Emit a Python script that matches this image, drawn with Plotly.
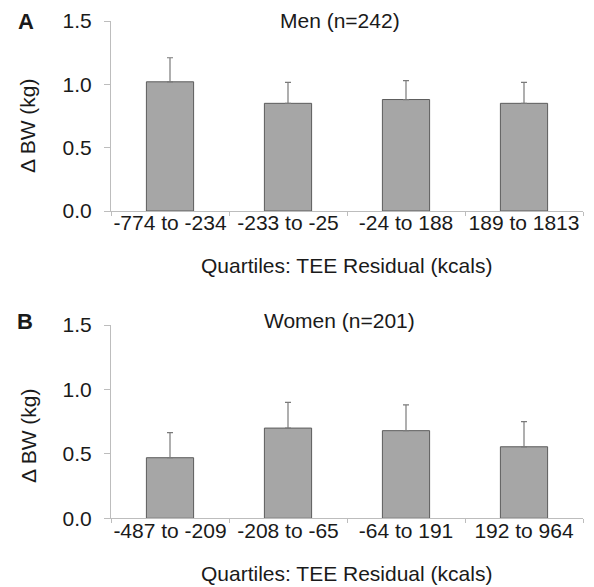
import plotly.graph_objects as go

men_cats = ["-774 to -234", "-233 to -25", "-24 to 188", "189 to 1813"]
men_vals = [1.02, 0.85, 0.88, 0.85]
men_err = [0.19, 0.165, 0.15, 0.165]

women_cats = ["-487 to -209", "-208 to -65", "-64 to 191", "192 to 964"]
women_vals = [0.47, 0.70, 0.68, 0.555]
women_err = [0.195, 0.20, 0.20, 0.195]

y_ticks = [0.0, 0.5, 1.0, 1.5]

FONT = "Liberation Sans, Arial, sans-serif"
TXT = "#1a1a1a"
FS = 21
W, H = 594, 587

def px_y(y):
    return 1 - y / H

def px_x(x):
    return x / W

fig = go.Figure()

for cats, vals, err, xa, ya in [(men_cats, men_vals, men_err, "x", "y"),
                                (women_cats, women_vals, women_err, "x2", "y2")]:
    fig.add_trace(go.Bar(
        x=cats, y=vals, xaxis=xa, yaxis=ya, width=0.4,
        marker=dict(color="#a6a6a6", line=dict(color="#5c5c5c", width=1)),
        error_y=dict(type="data", array=err, arrayminus=[0] * len(err),
                     symmetric=False, color="#7a7a7a", thickness=1.2, width=3),
        showlegend=False,
    ))

xdom = [px_x(111), px_x(583)]
common_x = dict(domain=xdom, showline=True, linecolor="#bdbdbd", linewidth=1,
                ticks="outside", tickson="boundaries", ticklen=4, tickcolor="#bdbdbd",
                tickfont=dict(family=FONT, size=FS, color=TXT), showgrid=False,
                zeroline=False, ticklabelstandoff=-7, tickangle=0,
                automargin=False, fixedrange=True)
common_y = dict(range=[0, 1.5], tickvals=y_ticks, tickformat=".1f",
                showline=True, linecolor="#bdbdbd", linewidth=1,
                ticks="outside", ticklen=6, tickcolor="#bdbdbd",
                tickfont=dict(family=FONT, size=FS, color=TXT), showgrid=False,
                zeroline=False, ticklabelstandoff=8, automargin=False,
                fixedrange=True)

fig.update_layout(
    width=W, height=H,
    margin=dict(l=0, r=0, t=0, b=0),
    plot_bgcolor="white", paper_bgcolor="white",
    xaxis=dict(common_x, anchor="y"),
    yaxis=dict(common_y, domain=[px_y(211), px_y(21)], anchor="x"),
    xaxis2=dict(common_x, anchor="y2"),
    yaxis2=dict(common_y, domain=[px_y(518.3), px_y(325)], anchor="x2"),
    bargap=0.6,
)

ann = [
    ("Men (n=242)", 340, 20, 0, False, FS),
    ("Women (n=201)", 340, 320, 0, False, FS),
    ("Quartiles: TEE Residual (kcals)", 347, 265, 0, False, FS),
    ("Quartiles: TEE Residual (kcals)", 347, 573, 0, False, FS),
    ("Δ BW (kg)", 28, 126, -90, False, FS),
    ("Δ BW (kg)", 28, 436, -90, False, FS),
    ("A", 26, 21, 0, True, 22),
    ("B", 25, 321, 0, True, 22),
]
for text, x, y, ang, bold, fs in ann:
    fig.add_annotation(
        text=f"<b>{text}</b>" if bold else text,
        x=px_x(x), y=px_y(y), xref="paper", yref="paper",
        xanchor="center", yanchor="middle", showarrow=False, textangle=ang,
        font=dict(family=FONT, size=fs, color=TXT),
    )

fig.write_html("out.html")
